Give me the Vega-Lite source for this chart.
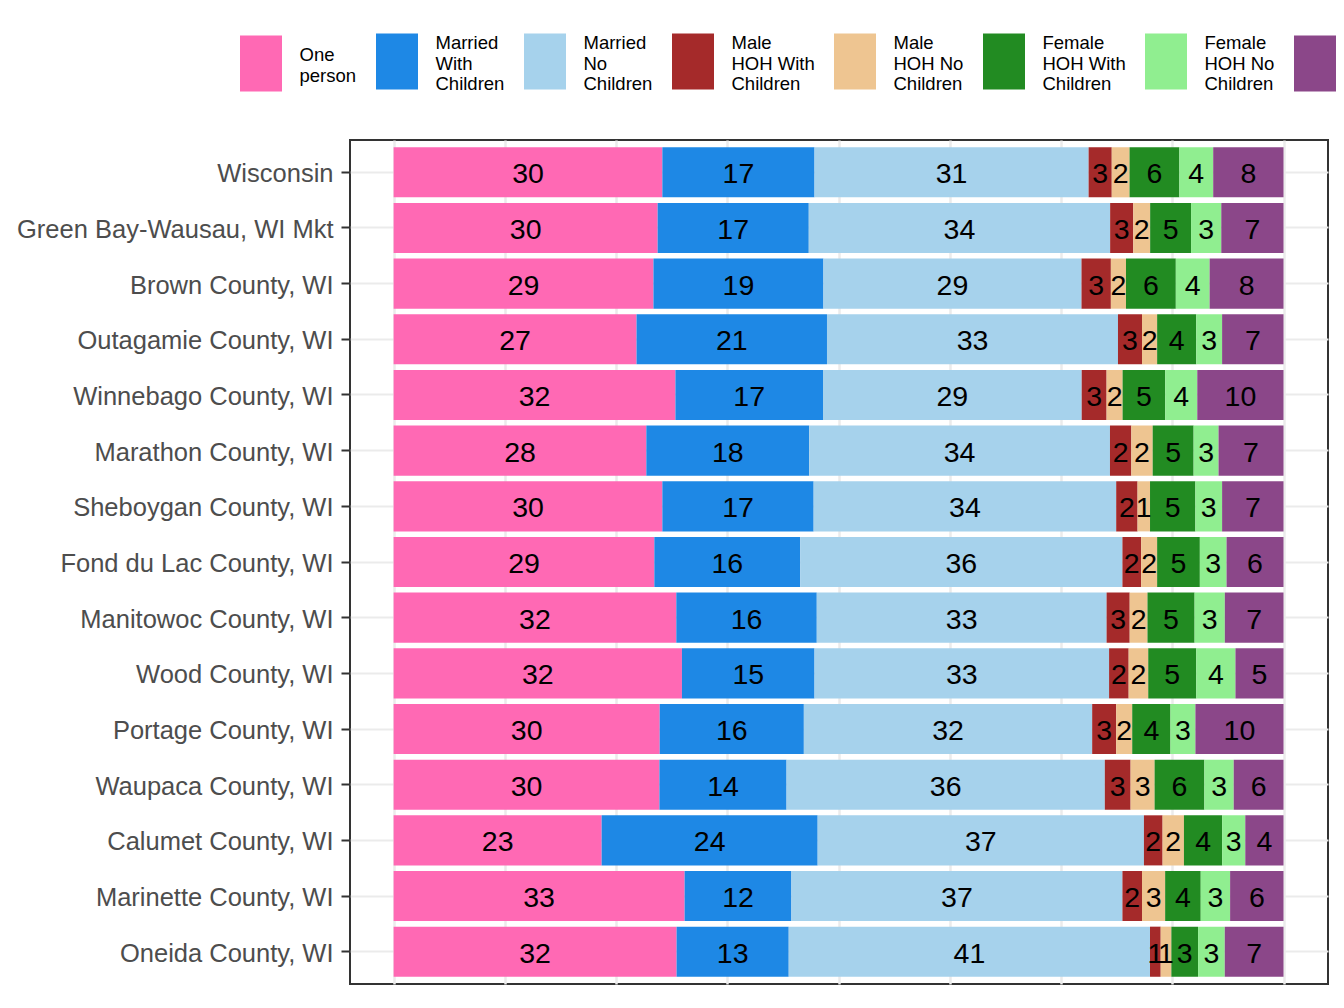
{
  "$schema": "https://vega.github.io/schema/vega-lite/v6.json",
  "width": 978,
  "height": 844,
  "autosize": {"type": "none"},
  "padding": {"left": 350, "top": 140, "right": 16, "bottom": 24},
  "background": "white",
  "config": {
    "view": {"stroke": "#333333", "strokeWidth": 2},
    "font": "Liberation Sans",
    "style": {"guide-label": {"lineHeight": 20.5}}
  },
  "data": {
    "values": [
      {"region": "Wisconsin", "type": "One person", "k": 1, "value": 30.2},
      {"region": "Wisconsin", "type": "Married With Children", "k": 2, "value": 17.1},
      {"region": "Wisconsin", "type": "Married No Children", "k": 3, "value": 30.8},
      {"region": "Wisconsin", "type": "Male HOH With Children", "k": 4, "value": 2.6},
      {"region": "Wisconsin", "type": "Male HOH No Children", "k": 5, "value": 2.0},
      {"region": "Wisconsin", "type": "Female HOH With Children", "k": 6, "value": 5.6},
      {"region": "Wisconsin", "type": "Female HOH No Children", "k": 7, "value": 3.8},
      {"region": "Wisconsin", "type": "Other", "k": 8, "value": 7.9},

      {"region": "Green Bay-Wausau, WI Mkt", "type": "One person", "k": 1, "value": 29.7},
      {"region": "Green Bay-Wausau, WI Mkt", "type": "Married With Children", "k": 2, "value": 17.0},
      {"region": "Green Bay-Wausau, WI Mkt", "type": "Married No Children", "k": 3, "value": 33.9},
      {"region": "Green Bay-Wausau, WI Mkt", "type": "Male HOH With Children", "k": 4, "value": 2.6},
      {"region": "Green Bay-Wausau, WI Mkt", "type": "Male HOH No Children", "k": 5, "value": 1.9},
      {"region": "Green Bay-Wausau, WI Mkt", "type": "Female HOH With Children", "k": 6, "value": 4.6},
      {"region": "Green Bay-Wausau, WI Mkt", "type": "Female HOH No Children", "k": 7, "value": 3.4},
      {"region": "Green Bay-Wausau, WI Mkt", "type": "Other", "k": 8, "value": 7.0},

      {"region": "Brown County, WI", "type": "One person", "k": 1, "value": 29.2},
      {"region": "Brown County, WI", "type": "Married With Children", "k": 2, "value": 19.1},
      {"region": "Brown County, WI", "type": "Married No Children", "k": 3, "value": 29.0},
      {"region": "Brown County, WI", "type": "Male HOH With Children", "k": 4, "value": 3.3},
      {"region": "Brown County, WI", "type": "Male HOH No Children", "k": 5, "value": 1.7},
      {"region": "Brown County, WI", "type": "Female HOH With Children", "k": 6, "value": 5.6},
      {"region": "Brown County, WI", "type": "Female HOH No Children", "k": 7, "value": 3.8},
      {"region": "Brown County, WI", "type": "Other", "k": 8, "value": 8.3},

      {"region": "Outagamie County, WI", "type": "One person", "k": 1, "value": 27.3},
      {"region": "Outagamie County, WI", "type": "Married With Children", "k": 2, "value": 21.4},
      {"region": "Outagamie County, WI", "type": "Married No Children", "k": 3, "value": 32.7},
      {"region": "Outagamie County, WI", "type": "Male HOH With Children", "k": 4, "value": 2.7},
      {"region": "Outagamie County, WI", "type": "Male HOH No Children", "k": 5, "value": 1.7},
      {"region": "Outagamie County, WI", "type": "Female HOH With Children", "k": 6, "value": 4.4},
      {"region": "Outagamie County, WI", "type": "Female HOH No Children", "k": 7, "value": 2.9},
      {"region": "Outagamie County, WI", "type": "Other", "k": 8, "value": 6.9},

      {"region": "Winnebago County, WI", "type": "One person", "k": 1, "value": 31.7},
      {"region": "Winnebago County, WI", "type": "Married With Children", "k": 2, "value": 16.6},
      {"region": "Winnebago County, WI", "type": "Married No Children", "k": 3, "value": 29.1},
      {"region": "Winnebago County, WI", "type": "Male HOH With Children", "k": 4, "value": 2.8},
      {"region": "Winnebago County, WI", "type": "Male HOH No Children", "k": 5, "value": 1.8},
      {"region": "Winnebago County, WI", "type": "Female HOH With Children", "k": 6, "value": 4.8},
      {"region": "Winnebago County, WI", "type": "Female HOH No Children", "k": 7, "value": 3.6},
      {"region": "Winnebago County, WI", "type": "Other", "k": 8, "value": 9.7},

      {"region": "Marathon County, WI", "type": "One person", "k": 1, "value": 28.4},
      {"region": "Marathon County, WI", "type": "Married With Children", "k": 2, "value": 18.3},
      {"region": "Marathon County, WI", "type": "Married No Children", "k": 3, "value": 33.8},
      {"region": "Marathon County, WI", "type": "Male HOH With Children", "k": 4, "value": 2.4},
      {"region": "Marathon County, WI", "type": "Male HOH No Children", "k": 5, "value": 2.4},
      {"region": "Marathon County, WI", "type": "Female HOH With Children", "k": 6, "value": 4.6},
      {"region": "Marathon County, WI", "type": "Female HOH No Children", "k": 7, "value": 2.8},
      {"region": "Marathon County, WI", "type": "Other", "k": 8, "value": 7.3},

      {"region": "Sheboygan County, WI", "type": "One person", "k": 1, "value": 30.2},
      {"region": "Sheboygan County, WI", "type": "Married With Children", "k": 2, "value": 17.0},
      {"region": "Sheboygan County, WI", "type": "Married No Children", "k": 3, "value": 34.0},
      {"region": "Sheboygan County, WI", "type": "Male HOH With Children", "k": 4, "value": 2.4},
      {"region": "Sheboygan County, WI", "type": "Male HOH No Children", "k": 5, "value": 1.4},
      {"region": "Sheboygan County, WI", "type": "Female HOH With Children", "k": 6, "value": 5.1},
      {"region": "Sheboygan County, WI", "type": "Female HOH No Children", "k": 7, "value": 3.0},
      {"region": "Sheboygan County, WI", "type": "Other", "k": 8, "value": 6.9},

      {"region": "Fond du Lac County, WI", "type": "One person", "k": 1, "value": 29.3},
      {"region": "Fond du Lac County, WI", "type": "Married With Children", "k": 2, "value": 16.4},
      {"region": "Fond du Lac County, WI", "type": "Married No Children", "k": 3, "value": 36.2},
      {"region": "Fond du Lac County, WI", "type": "Male HOH With Children", "k": 4, "value": 2.1},
      {"region": "Fond du Lac County, WI", "type": "Male HOH No Children", "k": 5, "value": 1.8},
      {"region": "Fond du Lac County, WI", "type": "Female HOH With Children", "k": 6, "value": 4.8},
      {"region": "Fond du Lac County, WI", "type": "Female HOH No Children", "k": 7, "value": 3.0},
      {"region": "Fond du Lac County, WI", "type": "Other", "k": 8, "value": 6.4},

      {"region": "Manitowoc County, WI", "type": "One person", "k": 1, "value": 31.8},
      {"region": "Manitowoc County, WI", "type": "Married With Children", "k": 2, "value": 15.8},
      {"region": "Manitowoc County, WI", "type": "Married No Children", "k": 3, "value": 32.6},
      {"region": "Manitowoc County, WI", "type": "Male HOH With Children", "k": 4, "value": 2.6},
      {"region": "Manitowoc County, WI", "type": "Male HOH No Children", "k": 5, "value": 2.0},
      {"region": "Manitowoc County, WI", "type": "Female HOH With Children", "k": 6, "value": 5.3},
      {"region": "Manitowoc County, WI", "type": "Female HOH No Children", "k": 7, "value": 3.4},
      {"region": "Manitowoc County, WI", "type": "Other", "k": 8, "value": 6.6},

      {"region": "Wood County, WI", "type": "One person", "k": 1, "value": 32.4},
      {"region": "Wood County, WI", "type": "Married With Children", "k": 2, "value": 14.9},
      {"region": "Wood County, WI", "type": "Married No Children", "k": 3, "value": 33.1},
      {"region": "Wood County, WI", "type": "Male HOH With Children", "k": 4, "value": 2.2},
      {"region": "Wood County, WI", "type": "Male HOH No Children", "k": 5, "value": 2.2},
      {"region": "Wood County, WI", "type": "Female HOH With Children", "k": 6, "value": 5.4},
      {"region": "Wood County, WI", "type": "Female HOH No Children", "k": 7, "value": 4.4},
      {"region": "Wood County, WI", "type": "Other", "k": 8, "value": 5.4},

      {"region": "Portage County, WI", "type": "One person", "k": 1, "value": 29.9},
      {"region": "Portage County, WI", "type": "Married With Children", "k": 2, "value": 16.2},
      {"region": "Portage County, WI", "type": "Married No Children", "k": 3, "value": 32.4},
      {"region": "Portage County, WI", "type": "Male HOH With Children", "k": 4, "value": 2.7},
      {"region": "Portage County, WI", "type": "Male HOH No Children", "k": 5, "value": 1.8},
      {"region": "Portage County, WI", "type": "Female HOH With Children", "k": 6, "value": 4.3},
      {"region": "Portage County, WI", "type": "Female HOH No Children", "k": 7, "value": 2.8},
      {"region": "Portage County, WI", "type": "Other", "k": 8, "value": 9.9},

      {"region": "Waupaca County, WI", "type": "One person", "k": 1, "value": 29.9},
      {"region": "Waupaca County, WI", "type": "Married With Children", "k": 2, "value": 14.3},
      {"region": "Waupaca County, WI", "type": "Married No Children", "k": 3, "value": 35.8},
      {"region": "Waupaca County, WI", "type": "Male HOH With Children", "k": 4, "value": 2.9},
      {"region": "Waupaca County, WI", "type": "Male HOH No Children", "k": 5, "value": 2.7},
      {"region": "Waupaca County, WI", "type": "Female HOH With Children", "k": 6, "value": 5.6},
      {"region": "Waupaca County, WI", "type": "Female HOH No Children", "k": 7, "value": 3.3},
      {"region": "Waupaca County, WI", "type": "Other", "k": 8, "value": 5.6},

      {"region": "Calumet County, WI", "type": "One person", "k": 1, "value": 23.4},
      {"region": "Calumet County, WI", "type": "Married With Children", "k": 2, "value": 24.3},
      {"region": "Calumet County, WI", "type": "Married No Children", "k": 3, "value": 36.7},
      {"region": "Calumet County, WI", "type": "Male HOH With Children", "k": 4, "value": 2.1},
      {"region": "Calumet County, WI", "type": "Male HOH No Children", "k": 5, "value": 2.4},
      {"region": "Calumet County, WI", "type": "Female HOH With Children", "k": 6, "value": 4.3},
      {"region": "Calumet County, WI", "type": "Female HOH No Children", "k": 7, "value": 2.6},
      {"region": "Calumet County, WI", "type": "Other", "k": 8, "value": 4.3},

      {"region": "Marinette County, WI", "type": "One person", "k": 1, "value": 32.7},
      {"region": "Marinette County, WI", "type": "Married With Children", "k": 2, "value": 12.0},
      {"region": "Marinette County, WI", "type": "Married No Children", "k": 3, "value": 37.2},
      {"region": "Marinette County, WI", "type": "Male HOH With Children", "k": 4, "value": 2.2},
      {"region": "Marinette County, WI", "type": "Male HOH No Children", "k": 5, "value": 2.6},
      {"region": "Marinette County, WI", "type": "Female HOH With Children", "k": 6, "value": 4.0},
      {"region": "Marinette County, WI", "type": "Female HOH No Children", "k": 7, "value": 3.3},
      {"region": "Marinette County, WI", "type": "Other", "k": 8, "value": 6.0},

      {"region": "Oneida County, WI", "type": "One person", "k": 1, "value": 31.8},
      {"region": "Oneida County, WI", "type": "Married With Children", "k": 2, "value": 12.6},
      {"region": "Oneida County, WI", "type": "Married No Children", "k": 3, "value": 40.6},
      {"region": "Oneida County, WI", "type": "Male HOH With Children", "k": 4, "value": 1.2},
      {"region": "Oneida County, WI", "type": "Male HOH No Children", "k": 5, "value": 1.2},
      {"region": "Oneida County, WI", "type": "Female HOH With Children", "k": 6, "value": 3.0},
      {"region": "Oneida County, WI", "type": "Female HOH No Children", "k": 7, "value": 3.0},
      {"region": "Oneida County, WI", "type": "Other", "k": 8, "value": 6.6}
    ]
  },
  "encoding": {
    "y": {
      "field": "region",
      "type": "nominal",
      "sort": null,
      "scale": {"paddingInner": 0.1, "paddingOuter": 0.13},
      "axis": {
        "title": null,
        "domain": false,
        "labelFontSize": 25.5,
        "labelColor": "#4D4D4D",
        "labelOffset": 2,
        "tickColor": "#333333",
        "tickSize": 9,
        "tickWidth": 2,
        "labelPadding": 8,
        "labelLimit": 400,
        "grid": true,
        "gridColor": "#EBEBEB",
        "gridWidth": 2
      }
    },
    "order": {"field": "k", "type": "quantitative"}
  },
  "layer": [
    {
      "mark": {"type": "bar"},
      "encoding": {
        "x": {
          "field": "value",
          "type": "quantitative",
          "stack": "normalize",
          "scale": {"domain": [-0.049, 1.05], "nice": false, "zero": false},
          "axis": {
            "title": null,
            "labels": false,
            "ticks": false,
            "domain": false,
            "grid": true,
            "gridColor": "#EBEBEB",
            "gridWidth": 2.5,
            "values": [0, 0.125, 0.25, 0.375, 0.5, 0.625, 0.75, 0.875, 1]
          }
        },
        "color": {
          "field": "type",
          "type": "nominal",
          "scale": {
            "domain": ["One person", "Married With Children", "Married No Children", "Male HOH With Children", "Male HOH No Children", "Female HOH With Children", "Female HOH No Children", "Other"],
            "range": ["#FF69B4", "#1E88E5", "#A6D2EC", "#A52A2A", "#EEC591", "#228B22", "#90EE90", "#8B4789"]
          },
          "legend": {
            "orient": "none",
            "legendX": -117,
            "legendY": -115,
            "direction": "horizontal",
            "columns": 8,
            "title": null,
            "padding": 0,
            "symbolType": "M-0.75,-0.707H0.75V1.293H-0.75Z",
            "symbolSize": 3136,
            "symbolStrokeWidth": 0,
            "symbolOpacity": 1,
            "labelFontSize": 18.5,
            "labelColor": "black",
            "labelOffset": 10.5,
            "columnPadding": 12,
            "labelLimit": 300,
            "labelBaseline": {"expr": "datum.label == 'One person' ? 'middle' : datum.label == 'Other' ? 'line-top' : 'bottom'"},
            "labelExpr": "datum.label == 'One person' ? ['One','person'] : datum.label == 'Married With Children' ? ['Married','With','Children'] : datum.label == 'Married No Children' ? ['Married','No','Children'] : datum.label == 'Male HOH With Children' ? ['Male','HOH With','Children'] : datum.label == 'Male HOH No Children' ? ['Male','HOH No','Children'] : datum.label == 'Female HOH With Children' ? ['Female','HOH With','Children'] : datum.label == 'Female HOH No Children' ? ['Female','HOH No','Children'] : datum.label"
          }
        }
      }
    },
    {
      "mark": {"type": "text", "fontSize": 28.5, "color": "black", "baseline": "middle", "align": "center", "dy": 2},
      "encoding": {
        "x": {"field": "value", "type": "quantitative", "stack": "normalize", "bandPosition": 0.5},
        "detail": {"field": "type"},
        "text": {"field": "value", "format": ".0f"}
      }
    }
  ]
}
